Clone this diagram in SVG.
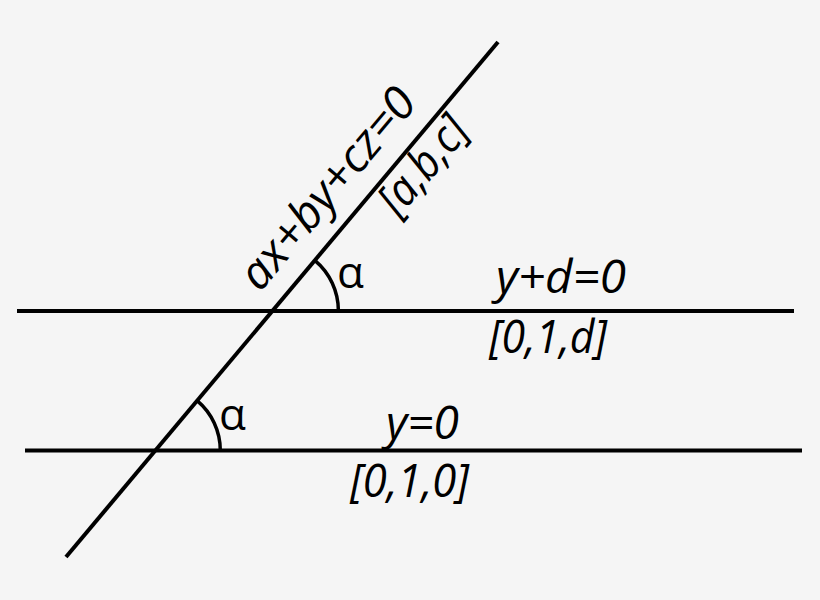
<svg xmlns="http://www.w3.org/2000/svg" width="820" height="600" viewBox="0 0 820 600">
<style>
.ln{stroke:#000;stroke-width:4;fill:none}
.arc{stroke:#000;stroke-width:3.5;fill:none}
.t{font-family:"Open Sans","Noto Sans","DejaVu Sans",sans-serif;font-size:46px;font-style:italic;fill:#000}
.g{font-family:"Open Sans","Noto Sans","DejaVu Sans",sans-serif;font-size:44px;font-style:normal;fill:#000}
</style>
<rect x="0" y="0" width="820" height="600" fill="#f5f5f5"/>
<g id="connectors">
<line class="ln" x1="17" y1="311" x2="794" y2="311"/>
<line class="ln" x1="25" y1="450.5" x2="802" y2="450.5"/>
<line class="ln" x1="66" y1="557" x2="498" y2="42"/>
<path class="arc" d="M338.4,311 A66,66 0 0,0 314.8,260.4"/>
<path class="arc" d="M220.3,450.5 A65,65 0 0,0 197.1,400.7"/>
</g>
<g id="plane-abc">
<text class="t" transform="translate(260,293) rotate(-50)" textLength="247" lengthAdjust="spacingAndGlyphs">ax+by+cz=0</text>
<text class="t" transform="translate(398.4,218.4) rotate(-50)" textLength="113" lengthAdjust="spacingAndGlyphs">[a,b,c]</text>
</g>
<g id="angle-upper"><text class="g" x="337" y="288">α</text></g>
<g id="angle-lower"><text class="g" x="219" y="430">α</text></g>
<g id="plane-d">
<text class="t" x="496" y="293" textLength="130" lengthAdjust="spacingAndGlyphs">y+d=0</text>
<text class="t" x="489" y="353" textLength="118" lengthAdjust="spacingAndGlyphs">[0,1,d]</text>
</g>
<g id="plane-0">
<text class="t" x="386" y="439" textLength="73" lengthAdjust="spacingAndGlyphs">y=0</text>
<text class="t" x="350" y="497" textLength="119" lengthAdjust="spacingAndGlyphs">[0,1,0]</text>
</g>
</svg>
